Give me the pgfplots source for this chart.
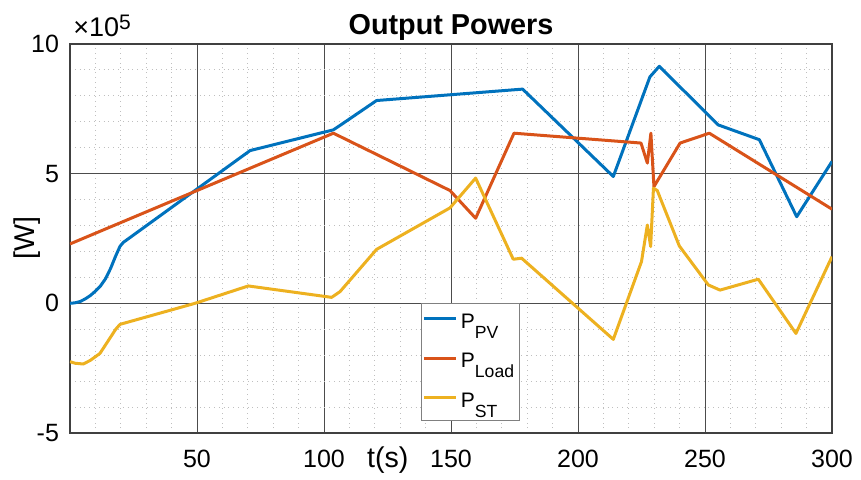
\documentclass[border=0pt]{standalone}
\usepackage{pgfplots}
\pgfplotsset{compat=1.18}
\usepackage{fontspec}
\setmainfont{Liberation Sans}
\definecolor{mblue}{rgb}{0,0.447,0.741}
\definecolor{morange}{rgb}{0.85,0.325,0.098}
\definecolor{myellow}{rgb}{0.929,0.694,0.125}
\newcommand{\sub}[1]{\raisebox{-5pt}{\fontsize{8.8}{10}\selectfont #1}}

\begin{document}
\begin{tikzpicture}
\begin{axis}[
    scale only axis,
    width=381pt, height=194.5pt,
    xmin=0, xmax=300, ymin=-5, ymax=10,
    xtick={50,100,...,300}, ytick={-5,0,5,10},
    minor xtick={0,10,...,300}, minor ytick={-5,-4,...,10},
    grid=both,
    major grid style={black!70, line width=0.5pt},
    minor grid style={black!25, dotted, line width=0.45pt},
    axis line style={black!75, line width=0.6pt},
    tick style={draw=none},
    ticklabel style={font=\fontsize{12.5}{14}\selectfont},
    xticklabel style={anchor=base, yshift=-17.5pt},
    yticklabel style={xshift=-2pt},
    /pgf/number format/assume math mode=true,
    title={Output Powers},
    title style={at={(axis description cs:0.5,1)}, anchor=base, yshift=-1.5pt,
        font=\fontsize{14.4}{16}\selectfont\bfseries},
    xlabel={t(s)},
    xlabel style={at={(axis description cs:0.417,0)}, anchor=base, yshift=-17.5pt,
        font=\fontsize{14.3}{16}\selectfont},
    legend cell align=left,
    legend style={at={(axis description cs:0.46,0.333)}, anchor=north west,
        draw=black!50, fill=white, font=\fontsize{10.5}{12}\selectfont,
        inner xsep=1pt, inner ysep=3pt, row sep=7pt,
        nodes={inner xsep=1.5pt}},
    legend image code/.code={\draw[#1] (0pt,2pt) -- (16pt,2pt);},
    every axis plot/.append style={line width=1.5pt, line join=round},
]
% P_PV
\addplot[mblue] coordinates {
    (0,0) (2,0.02) (4,0.07) (6,0.17) (8,0.3) (10,0.47) (12,0.67) (14,0.95)
    (16,1.35) (18,1.83) (19.7,2.2) (21,2.35) (70.9,5.89) (103.7,6.69)
    (106.3,6.86) (120.7,7.82) (178.2,8.26) (213.9,4.89) (228.3,8.73)
    (232,9.14) (255.2,6.88) (271.4,6.31) (286.1,3.34) (300,5.47)
};
\addlegendentry{P\sub{PV}}
% P_Load
\addplot[morange] coordinates {
    (0,2.29) (103.7,6.56) (149.6,4.35) (159.7,3.28) (174.8,6.56) (224.8,6.18)
    (227.3,5.41) (228.7,6.56) (229.9,4.5) (240.2,6.18) (251.7,6.56) (300,3.63)
};
\addlegendentry{P\sub{Load}}
% P_ST
\addplot[myellow] coordinates {
    (0,-2.25) (2,-2.31) (5.2,-2.34) (8,-2.2) (11.8,-1.93) (14,-1.6) (16,-1.3)
    (18,-1.0) (19.7,-0.81) (49.2,0) (70.2,0.67) (103,0.23) (106.3,0.45)
    (120.7,2.08) (149.6,3.68) (159.7,4.83) (174.5,1.70) (177.8,1.74)
    (213.9,-1.39) (225,1.61) (227.3,3.02) (228.6,2.19) (229.7,4.44)
    (231.2,4.35) (239.9,2.21) (251.3,0.71) (255.9,0.51) (271,0.93)
    (285.8,-1.16) (300,1.8)
};
\addlegendentry{P\sub{ST}}
\end{axis}
\node[anchor=base west, inner sep=0pt, font=\fontsize{13.5}{15}\selectfont]
    at ([xshift=1.5pt, yshift=3.5pt]current axis.north west)
    {×10\raisebox{3.5pt}{\fontsize{10.5}{12}\selectfont 5}};
\node[rotate=90, anchor=center, font=\fontsize{14.3}{16}\selectfont]
    at ([xshift=-21.5pt]current axis.west) {[W]};
\pgfresetboundingbox
\path ([shift={(-35pt,-23.5pt)}]current axis.south west)
    rectangle ([shift={(14.5pt,22pt)}]current axis.north east);
\end{tikzpicture}
\end{document}
